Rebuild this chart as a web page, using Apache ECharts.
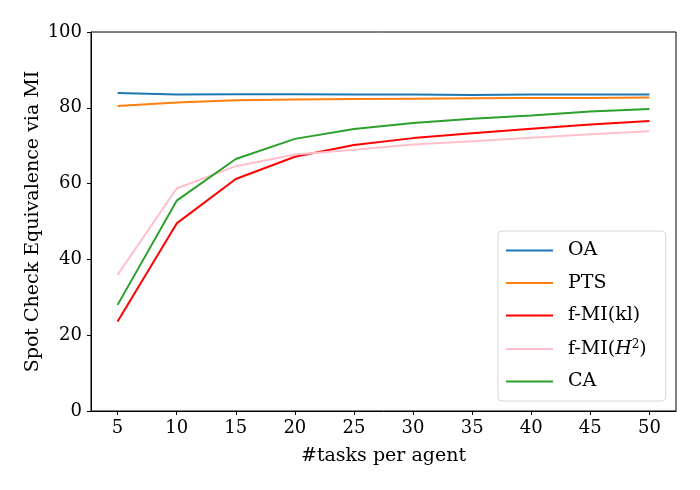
<!DOCTYPE html>
<html>
<head>
<meta charset="utf-8">
<script src="https://cdn.jsdelivr.net/npm/echarts@6/dist/echarts.min.js"></script>
<style>
  html, body { margin: 0; padding: 0; background: #fff; }
  #chart { width: 700px; height: 490px; }
</style>
</head>
<body>
<div id="chart"></div>
<script>
// ---------------------- Data ----------------------
let tasks = [5, 10, 15, 20, 25, 30, 35, 40, 45, 50];
let oa_values = [83.9, 83.5, 83.6, 83.6, 83.5, 83.5, 83.4, 83.5, 83.5, 83.5];
let pts_values = [80.5, 81.4, 82.0, 82.2, 82.3, 82.4, 82.5, 82.6, 82.6, 82.7];
let fmi_kl_values = [23.6, 49.5, 61.2, 67.1, 70.2, 72.0, 73.3, 74.5, 75.6, 76.5];
let fmi_h2_values = [35.9, 58.7, 64.6, 67.7, 68.9, 70.3, 71.2, 72.1, 73.0, 73.8];
let ca_values = [28.0, 55.5, 66.5, 71.8, 74.4, 76.0, 77.1, 78.0, 79.0, 79.7];
let y_ticks = [0, 20, 40, 60, 80, 100];

let series_names = ["OA", "PTS", "f-MI(kl)", "f-MI(H2)", "CA"];
let series_values = [oa_values, pts_values, fmi_kl_values, fmi_h2_values, ca_values];
let series_colors = ["#1f77b4", "#ff7f0e", "#ff0000", "#ffc0cb", "#2ca02c"];

// ---------------------- Style ----------------------
let font_family = "'DejaVu Serif', 'Liberation Serif', serif";
let chart = echarts.init(document.getElementById("chart"), null, {renderer: "canvas"});

function pair_up(values) {
    let out = [];
    for (let i = 0; i < tasks.length; i++) out.push([tasks[i], values[i]]);
    return out;
}

let series_list = [];
for (let i = 0; i < series_names.length; i++) {
    series_list.push({
        name: series_names[i],
        type: "line",
        symbol: "none",
        lineStyle: {color: series_colors[i], width: 2},
        itemStyle: {color: series_colors[i]},
        data: pair_up(series_values[i])
    });
}

let axis_line = {show: true, onZero: false, lineStyle: {color: "#000", width: 1}};

let option = {
    backgroundColor: "#fff",
    animation: false,
    // grid border gives the matplotlib box
    grid: {left: 91, right: 24, top: 32, bottom: 79, show: true, borderColor: "#000", borderWidth: 1},
    xAxis: {
        type: "value",
        min: 2.75,
        max: 52.25,
        name: "#tasks per agent",
        nameLocation: "middle",
        nameGap: 36,
        nameMoveOverlap: false,
        nameTextStyle: {fontFamily: font_family, fontSize: 19, color: "#000"},
        axisLine: axis_line,
        axisTick: {show: true, length: 4, customValues: tasks, lineStyle: {color: "#000"}},
        axisLabel: {customValues: tasks, fontFamily: font_family, fontSize: 18, color: "#000", margin: 8},
        splitLine: {show: false}
    },
    yAxis: {
        type: "value",
        min: 0,
        max: 100,
        interval: 20,
        name: "Spot Check Equivalence via MI",
        nameLocation: "middle",
        nameGap: 48,
        nameMoveOverlap: false,
        nameTextStyle: {fontFamily: font_family, fontSize: 19, color: "#000"},
        axisLine: axis_line,
        axisTick: {show: true, length: 4, lineStyle: {color: "#000"}},
        axisLabel: {
            fontFamily: font_family, fontSize: 18, color: "#000", margin: 9,
            customValues: y_ticks
        },
        splitLine: {show: false}
    },
    legend: {
        orient: "vertical",
        left: 498,
        top: 231,
        padding: [10, 19, 10, 8],
        icon: "rect",
        itemWidth: 47,
        itemHeight: 2,
        itemGap: 13.5,
        borderColor: "#d6d6d6",
        borderWidth: 1,
        borderRadius: 4,
        backgroundColor: "rgba(255,255,255,0.8)",
        data: series_names,
        formatter: function (name) {
            if (name === "f-MI(H2)") return "{n|f-MI(}{i|H}{s|2}{n|)}";
            return "{n|" + name + "}";
        },
        textStyle: {
            fontFamily: font_family, fontSize: 19, color: "#000",
            padding: [0, 0, 0, 10],
            rich: {
                n: {fontFamily: font_family, fontSize: 19, color: "#000", height: 21},
                i: {fontFamily: font_family, fontSize: 19, fontStyle: "italic", color: "#000", height: 21},
                s: {fontFamily: font_family, fontSize: 12, color: "#000", padding: [0, 0, 9, 0]}
            }
        }
    },
    tooltip: {show: false},
    series: series_list
};

chart.setOption(option, true);
</script>
</body>
</html>
